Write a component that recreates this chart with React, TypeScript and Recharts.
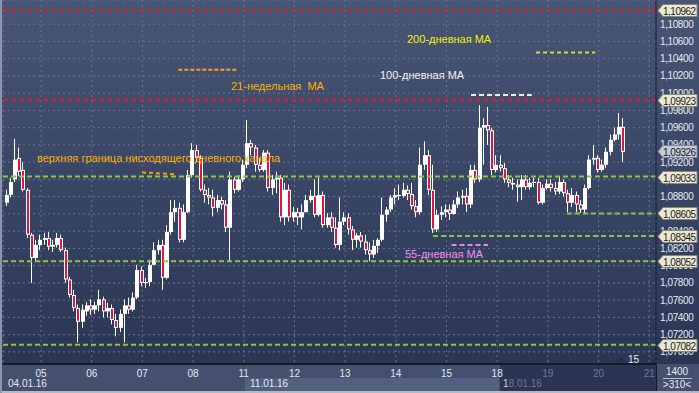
import { ComposedChart, Bar, XAxis, YAxis, CartesianGrid, ReferenceLine } from 'recharts';

// EURUSD, 2-hour candles, 04.01.16 – 20.01.16
const OPEN = [
  1.0873, 1.0882, 1.0900, 1.0925, 1.0911, 1.0888, 1.0836, 1.0809, 1.0824, 1.0830,
  1.0832, 1.0822, 1.0824, 1.0832, 1.0818, 1.0784, 1.0766, 1.0751, 1.0735, 1.0747,
  1.0754, 1.0749, 1.0754, 1.0761, 1.0747, 1.0751, 1.0737, 1.0728, 1.0744, 1.0754,
  1.0749, 1.0763, 1.0795, 1.0780, 1.0781, 1.0801, 1.0818, 1.0824, 1.0786, 1.0839,
  1.0862, 1.0867, 1.0830, 1.0862, 1.0905, 1.0934, 1.0925, 1.0888, 1.0882, 1.0879,
  1.0867, 1.0876, 1.0871, 1.0844, 1.0900, 1.0888, 1.0900, 1.0917, 1.0942, 1.0937,
  1.0917, 1.0911, 1.0931, 1.0890, 1.0900, 1.0902, 1.0856, 1.0888, 1.0856, 1.0862,
  1.0856, 1.0862, 1.0876, 1.0881, 1.0859, 1.0882, 1.0847, 1.0856, 1.0844, 1.0824,
  1.0851, 1.0856, 1.0842, 1.0830, 1.0835, 1.0828, 1.0818, 1.0813, 1.0823, 1.0830,
  1.0859, 1.0865, 1.0879, 1.0882, 1.0881, 1.0888, 1.0883, 1.0869, 1.0862, 1.0917,
  1.0928, 1.0888, 1.0842, 1.0859, 1.0862, 1.0865, 1.0860, 1.0871, 1.0879, 1.0881,
  1.0871, 1.0911, 1.0900, 1.0960, 1.0963, 1.0957, 1.0911, 1.0917, 1.0913, 1.0900,
  1.0896, 1.0894, 1.0891, 1.0900, 1.0891, 1.0896, 1.0897, 1.0873, 1.0890, 1.0895,
  1.0890, 1.0886, 1.0897, 1.0884, 1.0873, 1.0882, 1.0871, 1.0865, 1.0890, 1.0923,
  1.0925, 1.0911, 1.0917, 1.0932, 1.0946, 1.0952, 1.0961,
];
const HIGH = [
  1.0888, 1.0902, 1.0947, 1.0937, 1.0920, 1.0890, 1.0838, 1.0830, 1.0836, 1.0838,
  1.0839, 1.0830, 1.0838, 1.0836, 1.0821, 1.0787, 1.0772, 1.0755, 1.0755, 1.0758,
  1.0761, 1.0758, 1.0772, 1.0764, 1.0757, 1.0755, 1.0744, 1.0749, 1.0761, 1.0763,
  1.0769, 1.0801, 1.0799, 1.0786, 1.0807, 1.0827, 1.0830, 1.0830, 1.0847, 1.0876,
  1.0876, 1.0873, 1.0871, 1.0911, 1.0942, 1.0940, 1.0928, 1.0894, 1.0890, 1.0888,
  1.0882, 1.0880, 1.0876, 1.0909, 1.0903, 1.0905, 1.0923, 1.0969, 1.0946, 1.0940,
  1.0925, 1.0934, 1.0934, 1.0905, 1.0909, 1.0905, 1.0896, 1.0894, 1.0868, 1.0867,
  1.0871, 1.0882, 1.0888, 1.0900, 1.0902, 1.0886, 1.0861, 1.0862, 1.0856, 1.0879,
  1.0862, 1.0861, 1.0846, 1.0838, 1.0839, 1.0836, 1.0827, 1.0830, 1.0832, 1.0879,
  1.0868, 1.0882, 1.0890, 1.0894, 1.0896, 1.0893, 1.0896, 1.0876, 1.0937, 1.0944,
  1.0934, 1.0917, 1.0865, 1.0869, 1.0871, 1.0871, 1.0876, 1.0886, 1.0888, 1.0890,
  1.0917, 1.0917, 1.0986, 1.0971, 1.0984, 1.0960, 1.0928, 1.0928, 1.0919, 1.0905,
  1.0902, 1.0900, 1.0905, 1.0905, 1.0902, 1.0902, 1.0902, 1.0894, 1.0900, 1.0900,
  1.0897, 1.0903, 1.0900, 1.0888, 1.0890, 1.0886, 1.0876, 1.0894, 1.0928, 1.0940,
  1.0928, 1.0923, 1.0937, 1.0952, 1.0960, 1.0977, 1.0971,
];
const LOW = [
  1.0869, 1.0879, 1.0897, 1.0904, 1.0886, 1.0832, 1.0780, 1.0805, 1.0818, 1.0824,
  1.0818, 1.0816, 1.0821, 1.0816, 1.0780, 1.0763, 1.0747, 1.0711, 1.0728, 1.0742,
  1.0743, 1.0744, 1.0747, 1.0740, 1.0740, 1.0732, 1.0718, 1.0723, 1.0711, 1.0744,
  1.0747, 1.0761, 1.0776, 1.0774, 1.0776, 1.0801, 1.0813, 1.0772, 1.0784, 1.0836,
  1.0851, 1.0827, 1.0827, 1.0861, 1.0902, 1.0920, 1.0886, 1.0873, 1.0871, 1.0857,
  1.0862, 1.0865, 1.0839, 1.0805, 1.0884, 1.0886, 1.0897, 1.0913, 1.0928, 1.0909,
  1.0909, 1.0909, 1.0886, 1.0882, 1.0884, 1.0851, 1.0847, 1.0851, 1.0851, 1.0847,
  1.0842, 1.0862, 1.0873, 1.0856, 1.0857, 1.0844, 1.0844, 1.0839, 1.0821, 1.0818,
  1.0847, 1.0836, 1.0818, 1.0821, 1.0821, 1.0813, 1.0805, 1.0809, 1.0815, 1.0828,
  1.0851, 1.0862, 1.0871, 1.0876, 1.0879, 1.0876, 1.0865, 1.0856, 1.0859, 1.0911,
  1.0882, 1.0838, 1.0839, 1.0853, 1.0856, 1.0853, 1.0859, 1.0867, 1.0871, 1.0862,
  1.0867, 1.0896, 1.0897, 1.0917, 1.0940, 1.0905, 1.0908, 1.0909, 1.0896, 1.0891,
  1.0888, 1.0874, 1.0876, 1.0888, 1.0888, 1.0891, 1.0871, 1.0871, 1.0888, 1.0886,
  1.0882, 1.0883, 1.0880, 1.0862, 1.0868, 1.0862, 1.0861, 1.0861, 1.0888, 1.0917,
  1.0908, 1.0909, 1.0913, 1.0928, 1.0944, 1.0946, 1.0920,
];
const CLOSE = [
  1.0882, 1.0897, 1.0923, 1.0909, 1.0888, 1.0836, 1.0809, 1.0824, 1.0830, 1.0832,
  1.0822, 1.0824, 1.0832, 1.0818, 1.0784, 1.0766, 1.0751, 1.0735, 1.0749, 1.0754,
  1.0749, 1.0754, 1.0761, 1.0747, 1.0751, 1.0737, 1.0728, 1.0744, 1.0754, 1.0749,
  1.0763, 1.0795, 1.0780, 1.0781, 1.0801, 1.0818, 1.0824, 1.0786, 1.0839, 1.0862,
  1.0867, 1.0830, 1.0862, 1.0905, 1.0934, 1.0925, 1.0888, 1.0882, 1.0879, 1.0867,
  1.0876, 1.0871, 1.0844, 1.0900, 1.0888, 1.0900, 1.0917, 1.0942, 1.0937, 1.0917,
  1.0911, 1.0931, 1.0890, 1.0900, 1.0902, 1.0856, 1.0888, 1.0856, 1.0862, 1.0856,
  1.0862, 1.0876, 1.0881, 1.0859, 1.0882, 1.0847, 1.0856, 1.0844, 1.0824, 1.0851,
  1.0856, 1.0842, 1.0830, 1.0835, 1.0828, 1.0818, 1.0813, 1.0823, 1.0830, 1.0859,
  1.0865, 1.0879, 1.0882, 1.0881, 1.0888, 1.0883, 1.0869, 1.0862, 1.0917, 1.0928,
  1.0888, 1.0842, 1.0859, 1.0862, 1.0865, 1.0860, 1.0871, 1.0879, 1.0881, 1.0871,
  1.0911, 1.0900, 1.0960, 1.0963, 1.0957, 1.0911, 1.0917, 1.0913, 1.0900, 1.0896,
  1.0894, 1.0891, 1.0900, 1.0891, 1.0896, 1.0897, 1.0873, 1.0890, 1.0895, 1.0890,
  1.0886, 1.0897, 1.0884, 1.0873, 1.0882, 1.0871, 1.0865, 1.0890, 1.0923, 1.0925,
  1.0911, 1.0917, 1.0932, 1.0946, 1.0952, 1.0961, 1.0932,
];

// day separators (in candle index units) and their labels
const DAY_TICKS = [8.5, 20.5, 32.5, 44.5, 56.5, 68.5, 80.5, 92.5, 104.5, 116.5, 128.5, 140.5, 152.5];
const DAY_LABELS = ['05', '06', '07', '08', '11', '12', '13', '14', '15', '18', '19', '20', '21'];
const PRICE_TICKS = [
  1.070, 1.072, 1.074, 1.076, 1.078, 1.080, 1.082, 1.084, 1.086, 1.088,
  1.090, 1.092, 1.094, 1.096, 1.098, 1.100, 1.102, 1.104, 1.106, 1.108,
];

// horizontal levels drawn across the whole chart
const RED_LEVELS = [1.10962, 1.09923];
const GREEN_LEVELS = [1.09033, 1.08052, 1.07082];
// levels that start part-way: [price, fromIndex]
const GREEN_PARTIAL = [
  [1.08345, 101.3],
  [1.08605, 133],
];
const CURRENT_PRICE = 1.09326;
const TAG_LEVELS = [1.10962, 1.09923, 1.09326, 1.09033, 1.08605, 1.08345, 1.08052, 1.07082];

// moving-average markers: [price, fromIndex, toIndex]
const MA21W = [1.1027, 41, 55];
const MA100 = [1.0998, 110.3, 124.7];
const MA200 = [1.1047, 125.7, 139.7];
const MA55 = [1.0824, 105.7, 114.3];
const CHANNEL = [1.0908, 1.0906, 32.4, 40.3];

const X_DOMAIN = [-0.5, 154.1];
const Y_DOMAIN = [1.0686, 1.1108];
const FONT = '"Liberation Sans", Arial, sans-serif';
const MARGIN = { top: 0, right: 0, bottom: 0, left: 3 };

const data = OPEN.map((o, i) => ({
  i,
  open: o,
  high: HIGH[i],
  low: LOW[i],
  close: CLOSE[i],
  range: [LOW[i], HIGH[i]],
}));

const fmt = (v: number) => v.toFixed(5).replace('.', ',');

function Candle(props: any) {
  const { x, y, width, height, payload } = props;
  if (!payload || x == null || y == null) return null;
  const top = Math.min(y, y + height);
  const h = Math.abs(height);
  const span = payload.high - payload.low;
  const toY = (p: number) => top + (span ? ((payload.high - p) / span) * h : 0);
  const cx = Math.round(x + width / 2) + 0.5;
  const yo = toY(payload.open);
  const yc = toY(payload.close);
  const bodyTop = Math.min(yo, yc);
  const bodyH = Math.max(Math.abs(yo - yc), 1);
  const down = payload.close < payload.open;
  return (
    <g>
      <line x1={cx} x2={cx} y1={top} y2={top + h} stroke="#ffffff" strokeWidth={1} />
      <rect x={cx - 1.5} y={bodyTop} width={4} height={bodyH} fill="#ffffff" />
      {down && bodyH > 2 && (
        <rect x={cx - 0.5} y={bodyTop + 1} width={2} height={bodyH - 2} fill="#e0143c" />
      )}
    </g>
  );
}

function PriceTag(props: any) {
  const { viewBox, value } = props;
  if (!viewBox) return null;
  const r = viewBox.x + viewBox.width;
  const y = Math.round(viewBox.y) + 0.5;
  const current = value === CURRENT_PRICE;
  return (
    <g>
      <path
        d={`M${r + 2},${y} L${r + 7},${y - 6} H${r + 41} V${y + 6} H${r + 7} Z`}
        fill={current ? '#c6cad8' : '#ebe8d4'}
        stroke={current ? '#7d859c' : '#8c8870'}
        strokeWidth={1}
      />
      <text x={r + 7} y={y + 4} fontSize={10} letterSpacing={-0.5} fill="#1c1c1c" fontFamily={FONT}>
        {fmt(value)}
      </text>
    </g>
  );
}

function DayTick(props: any) {
  const { x, payload } = props;
  const idx = DAY_TICKS.indexOf(payload.value);
  if (idx < 0) return null;
  return (
    <text
      x={x}
      y={377}
      textAnchor="middle"
      fontSize={10}
      fontFamily={FONT}
      fill={idx >= 10 ? '#6c7795' : '#e4e8f2'}
    >
      {DAY_LABELS[idx]}
    </text>
  );
}

export default function App() {
  return (
    <div
      style={{
        position: 'absolute',
        left: 0,
        top: 0,
        width: 699,
        height: 393,
        overflow: 'hidden',
        fontFamily: FONT,
        background: 'linear-gradient(#485574, #2b3655 364px)',
      }}
    >
      {/* bottom time axis band */}
      <div style={{ position: 'absolute', left: 0, top: 364, width: 699, height: 29, background: '#44506d' }} />
      <div style={{ position: 'absolute', left: 245, top: 378, width: 254, height: 13, background: '#536080' }} />
      <div style={{ position: 'absolute', left: 500, top: 365, width: 156, height: 26, background: '#2b3553' }} />
      <div style={{ position: 'absolute', left: 656, top: 364, width: 1, height: 29, background: '#141926' }} />
      <div style={{ position: 'absolute', left: 0, top: 391, width: 699, height: 2, background: '#b4b9c6' }} />
      <div style={{ position: 'absolute', left: 0, top: 0, width: 2, height: 393, background: '#8d95aa' }} />

      <div style={{ position: 'absolute', left: 0, top: 0 }}>
        <ComposedChart width={699} height={393} data={data} margin={MARGIN}>
          <CartesianGrid stroke="#67738f" strokeDasharray="2 3" />
          <XAxis
            type="number"
            dataKey="i"
            domain={X_DOMAIN}
            ticks={DAY_TICKS}
            allowDataOverflow
            height={29}
            tickLine={false}
            tickSize={0}
            axisLine={{ stroke: '#151a28', strokeWidth: 2 }}
            tick={<DayTick />}
            interval={0}
          />
          <YAxis
            type="number"
            orientation="right"
            domain={Y_DOMAIN}
            ticks={PRICE_TICKS}
            allowDataOverflow
            width={43}
            tickLine={false}
            tickSize={4}
            tickMargin={0}
            axisLine={{ stroke: '#141926', strokeWidth: 1 }}
            tick={{ fill: '#e6eaf3', fontSize: 10, letterSpacing: -0.4, textAnchor: 'start' }}
            tickFormatter={fmt}
            interval={0}
          />
          <Bar dataKey="range" barSize={3} isAnimationActive={false} shape={<Candle />} />

          {RED_LEVELS.map((v) => (
            <ReferenceLine key={`r${v}`} y={v} stroke="#d2231c" strokeWidth={2.5} strokeDasharray="4 4" />
          ))}
          {GREEN_LEVELS.map((v) => (
            <ReferenceLine key={`g${v}`} y={v} stroke="#8cc540" strokeWidth={2} strokeDasharray="5 3" />
          ))}
          {GREEN_PARTIAL.map(([v, from]) => (
            <ReferenceLine
              key={`gp${v}`}
              segment={[{ x: from, y: v }, { x: X_DOMAIN[1], y: v }]}
              stroke="#8cc540"
              strokeWidth={2}
              strokeDasharray="5 3"
            />
          ))}
          <ReferenceLine
            segment={[{ x: MA21W[1], y: MA21W[0] }, { x: MA21W[2], y: MA21W[0] }]}
            stroke="#f6a21b"
            strokeWidth={2}
            strokeDasharray="4 2"
          />
          <ReferenceLine
            segment={[{ x: MA100[1], y: MA100[0] }, { x: MA100[2], y: MA100[0] }]}
            stroke="#e9ebf2"
            strokeWidth={2}
            strokeDasharray="5 3"
          />
          <ReferenceLine
            segment={[{ x: MA200[1], y: MA200[0] }, { x: MA200[2], y: MA200[0] }]}
            stroke="#d9e024"
            strokeWidth={2}
            strokeDasharray="4 3"
          />
          <ReferenceLine
            segment={[{ x: MA55[1], y: MA55[0] }, { x: MA55[2], y: MA55[0] }]}
            stroke="#e58ae6"
            strokeWidth={2}
            strokeDasharray="5 3"
          />
          <ReferenceLine
            segment={[{ x: CHANNEL[2], y: CHANNEL[0] }, { x: CHANNEL[3], y: CHANNEL[1] }]}
            stroke="#f2a20c"
            strokeWidth={2}
            strokeDasharray="4 3"
          />
        </ComposedChart>
      </div>

      {/* price tags sit above the axis labels, on a second chart with the same scales */}
      <div style={{ position: 'absolute', left: 0, top: 0 }}>
        <ComposedChart width={699} height={393} data={data} margin={MARGIN}>
          <XAxis type="number" dataKey="i" domain={X_DOMAIN} allowDataOverflow height={29} tick={false} axisLine={false} tickLine={false} />
          <YAxis type="number" orientation="right" domain={Y_DOMAIN} allowDataOverflow width={43} tick={false} axisLine={false} tickLine={false} />
          {TAG_LEVELS.map((v) => (
            <ReferenceLine key={`t${v}`} y={v} stroke="none" label={<PriceTag value={v} />} />
          ))}
        </ComposedChart>
      </div>

      {/* annotations */}
      <svg
        width={699}
        height={393}
        style={{ position: 'absolute', left: 0, top: 0, pointerEvents: 'none' }}
        fontFamily={FONT}
      >
        <text x={407} y={43} fontSize={11} fill="#f4f000">200-дневная MA</text>
        <text x={380} y={79} fontSize={11} fill="#f2f2f4">100-дневная MA</text>
        <text x={231} y={90} fontSize={11} fill="#ffb000" style={{ whiteSpace: 'pre' }}>21-недельная  MA</text>
        <text x={37} y={162} fontSize={11} fill="#ffb000">верхняя граница нисходящего дневного канала</text>
        <text x={405} y={258} fontSize={11} fill="#f290f0">55-дневная MA</text>

        <path d="M617,362 L621,357 L625,362 Z" fill="#252e48" />
        <text x={628} y={363} fontSize={10} fill="#e4e8f2">15</text>

        <text x={8} y={387} fontSize={10} fill="#e4e8f2">04.01.16</text>
        <text x={250} y={387} fontSize={10} fill="#e4e8f2">11.01.16</text>
        <text x={503} y={387} fontSize={10} fill="#6c7795">
          <tspan fill="#c9cfdc">1</tspan>8.01.16
        </text>

        <text x={677} y={375} fontSize={10} fill="#e6eaf3" textAnchor="middle">1400</text>
        <line x1={663} x2={692} y1={378.5} y2={378.5} stroke="#b9c0d0" strokeWidth={1} />
        <text x={677} y={388} fontSize={10} fill="#e6eaf3" textAnchor="middle">&gt;310&lt;</text>
      </svg>
    </div>
  );
}
